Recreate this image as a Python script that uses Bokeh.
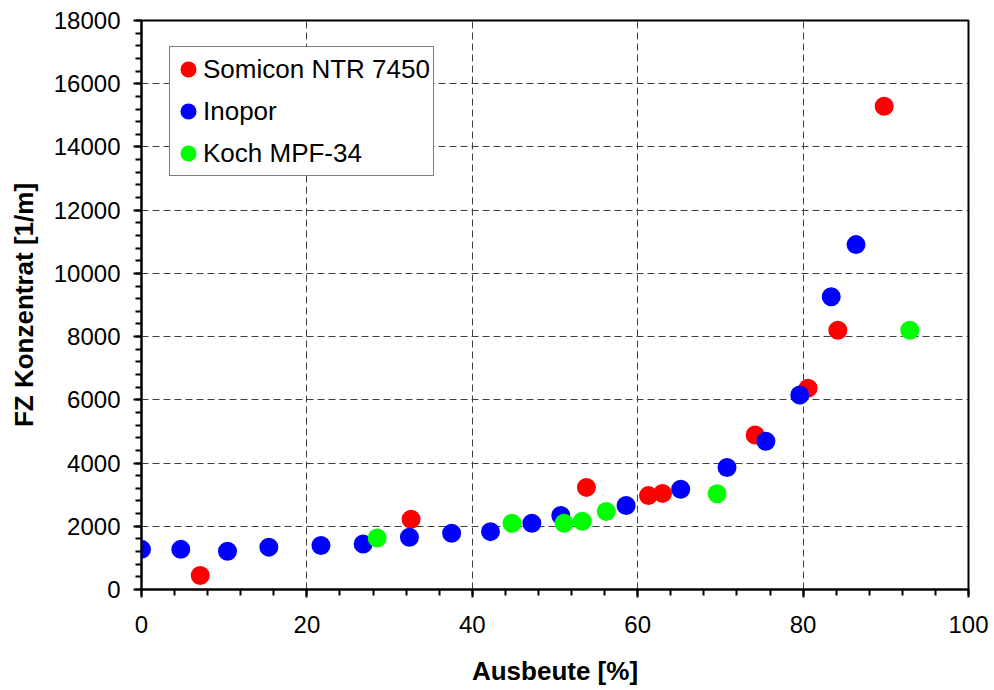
from bokeh.plotting import figure
from bokeh.models import (Range1d, SingleIntervalTicker, Legend, LegendItem,
                          ColumnDataSource)
from bokeh.embed import file_html
from bokeh.resources import INLINE

# ---- data ----
somicon_x = [7.1, 32.6, 53.8, 61.3, 63.0, 74.2, 80.6, 84.2, 89.8]
somicon_y = [440, 2220, 3230, 2970, 3040, 4890, 6370, 8200, 15290]

inopor_x = [0.0, 4.75, 10.4, 15.4, 21.7, 26.8, 32.4, 37.5, 42.2, 47.2, 50.7,
            58.6, 65.2, 70.8, 75.5, 79.6, 83.4, 86.4]
inopor_y = [1270, 1270, 1210, 1340, 1390, 1440, 1650, 1780, 1830, 2095, 2340,
            2660, 3170, 3860, 4690, 6150, 9260, 10910]

koch_x = [28.5, 44.8, 51.1, 53.3, 56.2, 69.6, 92.9]
koch_y = [1630, 2095, 2095, 2160, 2470, 3030, 8200]

series_names = ["Somicon NTR 7450", "Inopor", "Koch MPF-34"]
series_colors = ["#FF0000", "#0000FF", "#00FF00"]

x_label = "Ausbeute [%]"
y_label = "FZ Konzentrat [1/m]"

FONT = "Liberation Sans"

p = figure(width=990, height=690, output_backend="svg", toolbar_location=None,
           x_range=Range1d(0, 100), y_range=Range1d(0, 18000),
           min_border_left=141, min_border_top=20, min_border_right=22,
           min_border_bottom=101)
p.background_fill_color = "white"
p.border_fill_color = "white"
p.outline_line_color = "black"
p.outline_line_width = 2

# axes
p.xaxis.ticker = SingleIntervalTicker(interval=20, num_minor_ticks=5)
p.yaxis.ticker = SingleIntervalTicker(interval=2000, num_minor_ticks=5)
for ax in (p.xaxis[0], p.yaxis[0]):
    ax.axis_line_color = "black"
    ax.axis_line_width = 2
    ax.major_tick_line_color = "black"
    ax.major_tick_line_width = 2
    ax.minor_tick_line_color = "black"
    ax.minor_tick_line_width = 2
    ax.major_tick_in = 0
    ax.major_tick_out = 8
    ax.minor_tick_in = 0
    ax.minor_tick_out = 6
    ax.major_label_text_font = FONT
    ax.major_label_text_font_size = "24px"
    ax.major_label_text_color = "black"
    ax.axis_label_text_font = FONT
    ax.axis_label_text_font_size = "26px"
    ax.axis_label_text_font_style = "bold"
    ax.axis_label_text_color = "black"

p.xaxis.axis_label = x_label
p.yaxis.axis_label = y_label
p.xaxis.major_label_standoff = 18
p.yaxis.major_label_standoff = 13
p.xaxis.axis_label_standoff = 20
p.yaxis.axis_label_standoff = 12

# grid
for g in (p.xgrid[0], p.ygrid[0]):
    g.grid_line_color = "#404040"
    g.grid_line_width = 1
    g.grid_line_dash = "7 4"

# scatter series (size + outline width give ~19 px dots)
renderers = []
for xs, ys, col in zip([somicon_x, inopor_x, koch_x],
                       [somicon_y, inopor_y, koch_y], series_colors):
    src = ColumnDataSource(dict(x=xs, y=ys))
    r = p.scatter("x", "y", source=src, size=15, marker="circle",
                  fill_color=col, line_color=col, line_width=4)
    renderers.append(r)

legend = Legend(items=[LegendItem(label=n, renderers=[r])
                       for n, r in zip(series_names, renderers)],
                location=(28, 413))
legend.glyph_width = 30
legend.glyph_height = 38
legend.padding = 3
legend.spacing = 4
legend.label_standoff = 0
legend.margin = 0
legend.label_text_font = FONT
legend.label_text_font_size = "26px"
legend.label_text_color = "black"
legend.border_line_color = "black"
legend.border_line_width = 1
legend.background_fill_color = "white"
legend.background_fill_alpha = 1.0
p.add_layout(legend)

open("out.html", "w").write(file_html(p, INLINE))
